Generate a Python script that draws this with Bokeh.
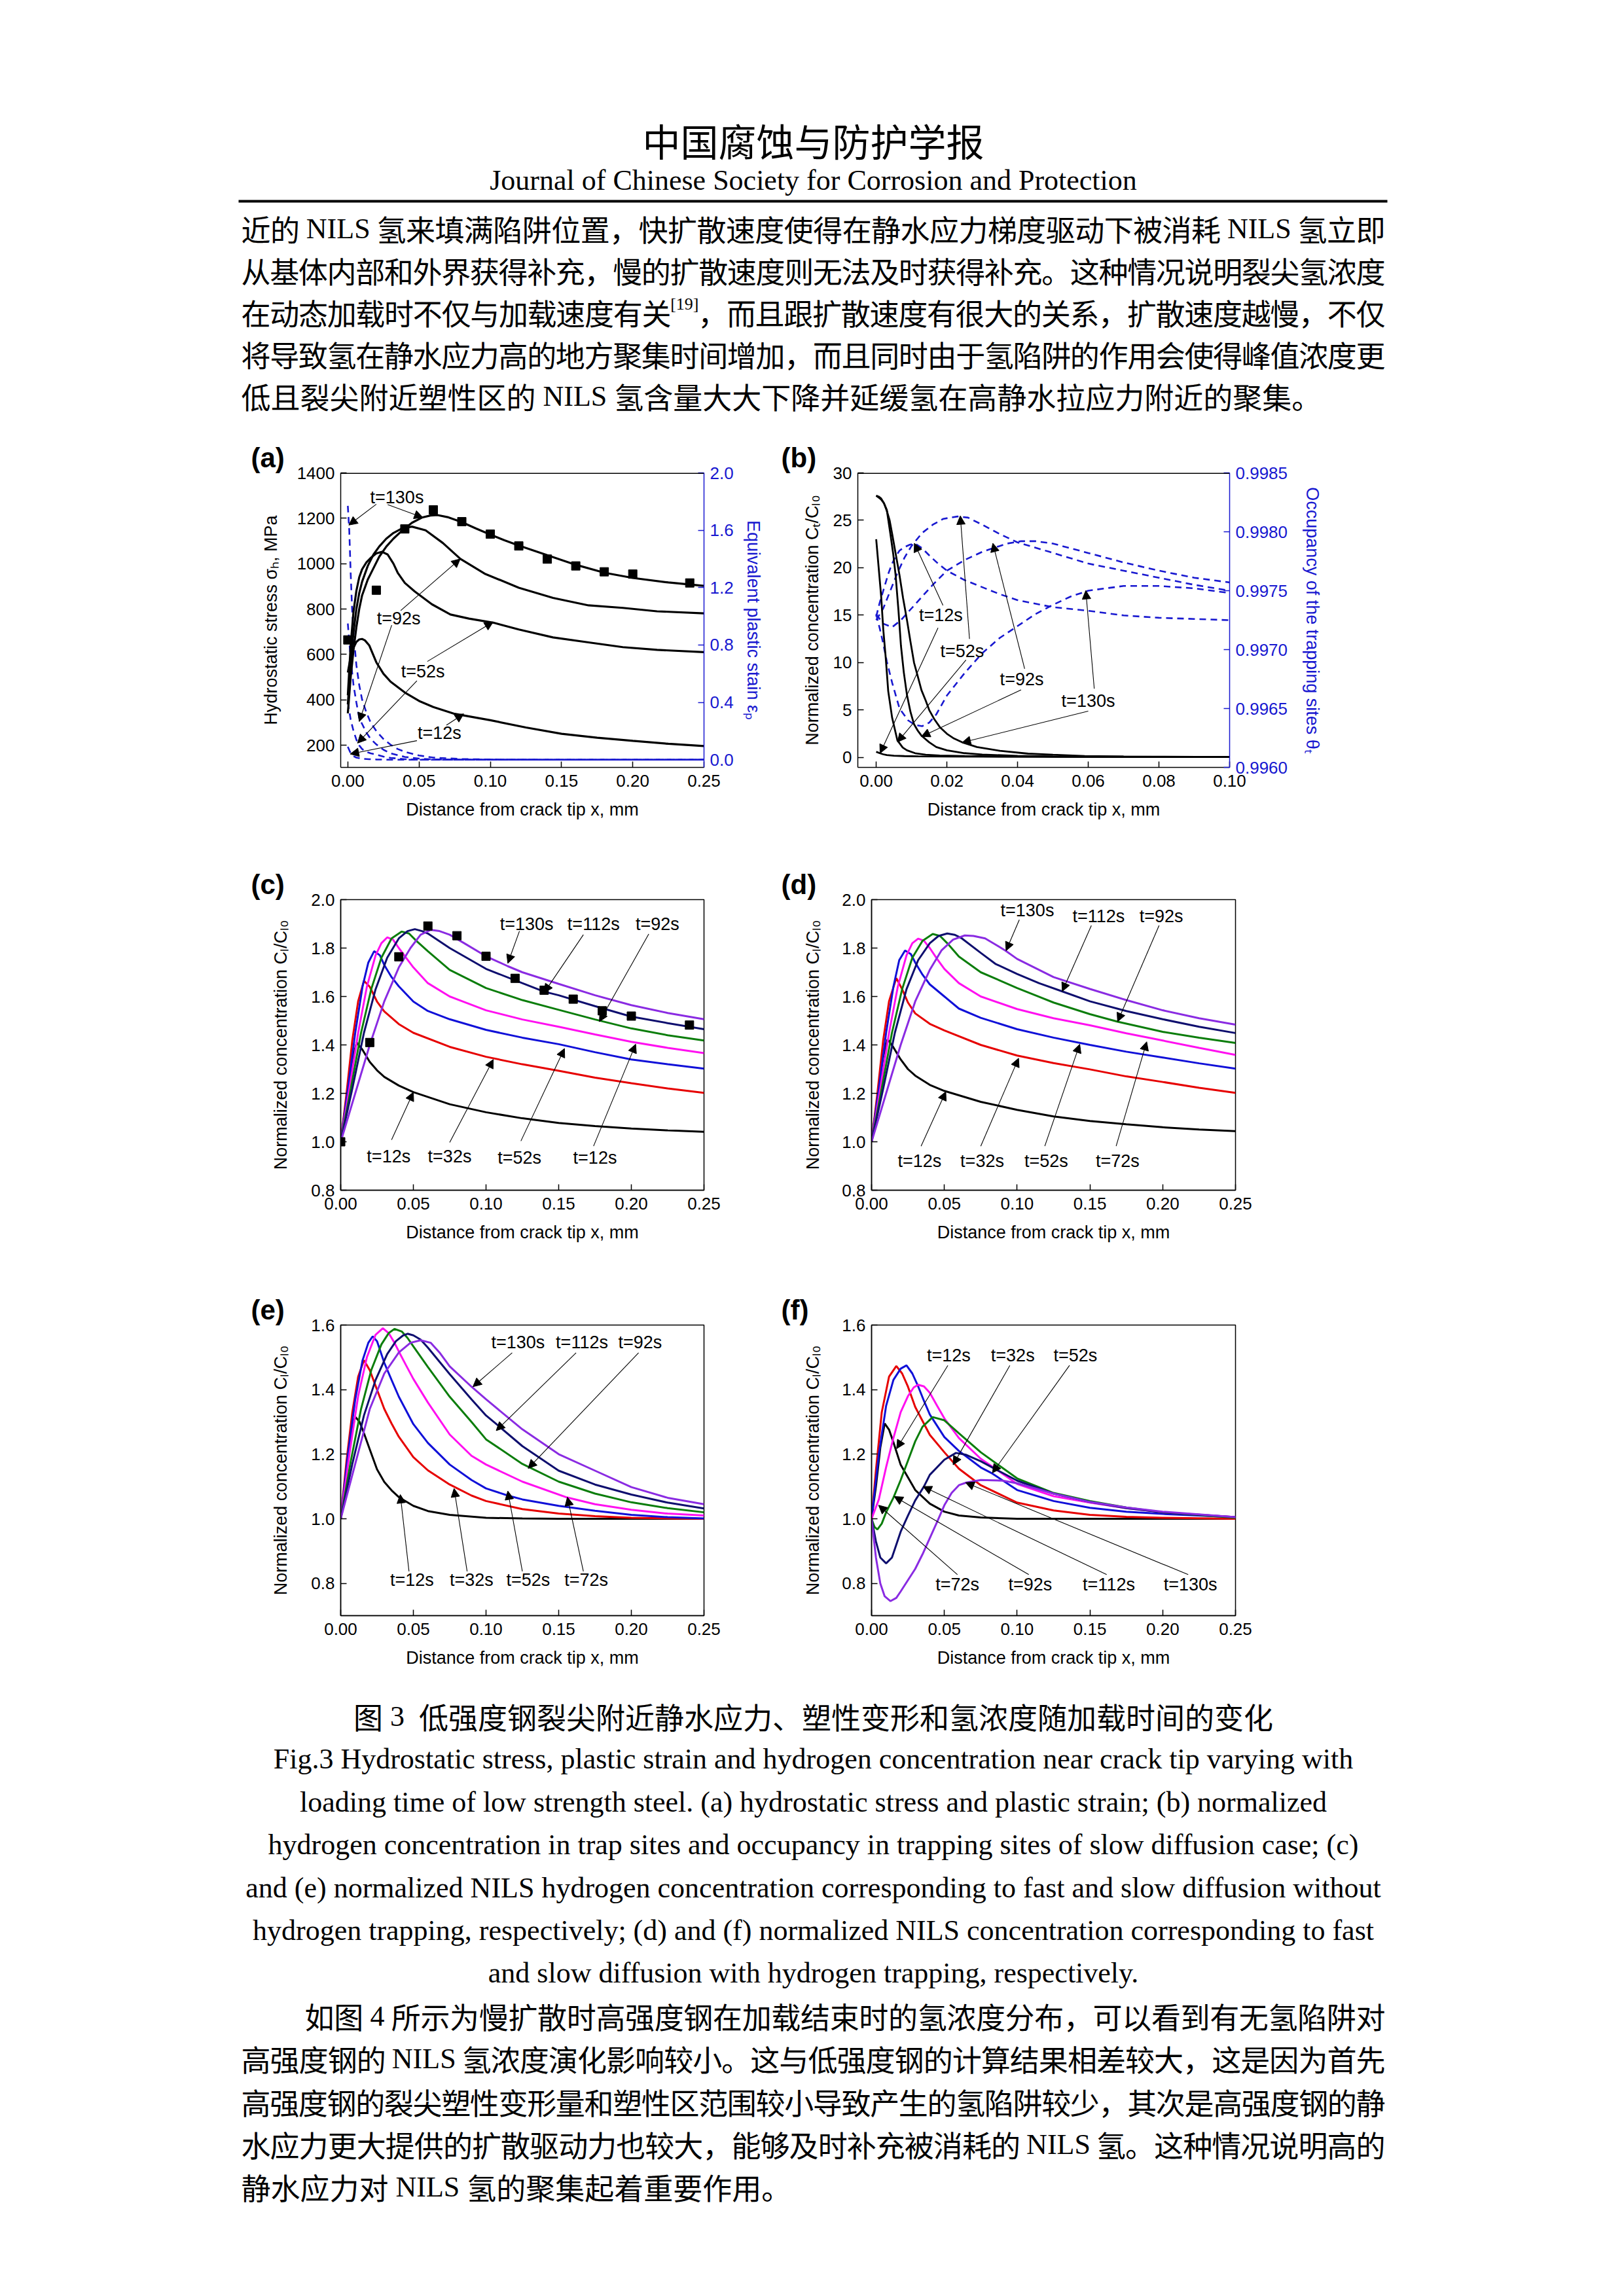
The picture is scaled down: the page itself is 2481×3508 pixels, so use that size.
import math
from bokeh.plotting import figure
from bokeh.models import (Range1d, LinearAxis, FixedTicker, Arrow, NormalHead,
                          ColumnDataSource, Span)
from bokeh.layouts import column, row
from bokeh.embed import file_html
from bokeh.resources import INLINE
from bokeh.core.properties import value

# ======================= DATA =======================
x_ticks_025 = [0.0, 0.05, 0.10, 0.15, 0.20, 0.25]
x_labels_025 = ["0.00", "0.05", "0.10", "0.15", "0.20", "0.25"]
x_ticks_010 = [0.0, 0.02, 0.04, 0.06, 0.08, 0.10]
x_labels_010 = ["0.00", "0.02", "0.04", "0.06", "0.08", "0.10"]

# ---- Panel (a)
a_left_ticks = [200, 400, 600, 800, 1000, 1200, 1400]
a_left_labels = ["200", "400", "600", "800", "1000", "1200", "1400"]
a_right_ticks = [0.0, 0.4, 0.8, 1.2, 1.6, 2.0]
a_right_labels = ["0.0", "0.4", "0.8", "1.2", "1.6", "2.0"]

a_s12_x = [0.0, 0.002, 0.004, 0.006, 0.008, 0.010, 0.012, 0.015, 0.020, 0.025, 0.030, 0.040,
           0.050, 0.060, 0.075, 0.100, 0.125, 0.150, 0.175, 0.200, 0.225, 0.250]
a_s12_y = [520, 590, 630, 655, 666, 668, 662, 640, 565, 515, 480, 432,
           395, 368, 338, 310, 278, 250, 233, 219, 206, 196]
a_s52_x = [0.0, 0.002, 0.004, 0.006, 0.008, 0.010, 0.013, 0.016, 0.020, 0.024, 0.028, 0.032,
           0.035, 0.040, 0.047, 0.059, 0.072, 0.085, 0.102, 0.120, 0.144, 0.169, 0.193, 0.217, 0.250]
a_s52_y = [420, 640, 790, 880, 940, 975, 1005, 1025, 1045, 1052, 1040, 1000,
           960, 915, 877, 821, 776, 758, 740, 710, 675, 653, 632, 620, 610]
a_s92_x = [0.0, 0.002, 0.004, 0.006, 0.008, 0.010, 0.014, 0.018, 0.022, 0.027, 0.032, 0.038,
           0.045, 0.0546, 0.0667, 0.079, 0.096, 0.120, 0.144, 0.169, 0.193, 0.217, 0.250]
a_s92_y = [380, 560, 700, 800, 870, 920, 990, 1040, 1075, 1110, 1135, 1155,
           1163, 1147, 1091, 1021, 956, 894, 849, 816, 805, 790, 781]
a_s130_x = [0.0, 0.002, 0.004, 0.006, 0.008, 0.010, 0.014, 0.018, 0.022, 0.027, 0.032, 0.038,
            0.045, 0.052, 0.058, 0.063, 0.070, 0.080, 0.090, 0.100, 0.110, 0.120, 0.140, 0.160,
            0.180, 0.200, 0.225, 0.250]
a_s130_y = [340, 500, 620, 720, 800, 860, 930, 980, 1030, 1075, 1110, 1145,
            1180, 1203, 1212, 1214, 1205, 1183, 1155, 1128, 1103, 1080, 1037, 995,
            960, 937, 917, 902]
a_mark_x = [0.0, 0.02, 0.04, 0.06, 0.08, 0.10, 0.12, 0.14, 0.16, 0.18, 0.20, 0.24]
a_mark_y = [664, 883, 1153, 1237, 1185, 1130, 1078, 1020, 990, 964, 954, 915]

a_e12_x = [0.0, 0.002, 0.004, 0.006, 0.010, 0.015, 0.020, 0.030, 0.250]
a_e12_y = [0.09, 0.045, 0.025, 0.015, 0.007, 0.004, 0.002, 0.0, 0.0]
a_e52_x = [0.0, 0.002, 0.004, 0.006, 0.008, 0.010, 0.013, 0.016, 0.020, 0.025, 0.030, 0.040, 0.050, 0.250]
a_e52_y = [0.40, 0.28, 0.20, 0.14, 0.10, 0.075, 0.055, 0.045, 0.036, 0.022, 0.013, 0.004, 0.0, 0.0]
a_e92_x = [0.0, 0.002, 0.004, 0.006, 0.008, 0.010, 0.013, 0.016, 0.020, 0.025, 0.030, 0.040, 0.050,
           0.060, 0.080, 0.250]
a_e92_y = [0.95, 0.70, 0.52, 0.40, 0.29, 0.25, 0.19, 0.145, 0.107, 0.07, 0.045, 0.02, 0.008,
           0.003, 0.0, 0.0]
a_e130_x = [0.0, 0.001, 0.002, 0.003, 0.004, 0.006, 0.008, 0.010, 0.013, 0.016, 0.020, 0.025,
            0.030, 0.035, 0.040, 0.050, 0.060, 0.080, 0.100, 0.150, 0.250]
a_e130_y = [1.77, 1.60, 1.30, 1.05, 0.88, 0.66, 0.52, 0.42, 0.33, 0.26, 0.20, 0.145,
            0.105, 0.075, 0.055, 0.03, 0.015, 0.005, 0.002, 0.0, 0.0]

a_lab_x = [0.0345, 0.0357, 0.0527, 0.0643]
a_lab_y = [1293, 757, 526, 254]
a_lab_t = ["t=130s", "t=92s", "t=52s", "t=12s"]
a_arr_x0 = [0.020, 0.028, 0.0308, 0.0371, 0.0485, 0.0558, 0.0485, 0.0692]
a_arr_y0 = [1262, 1260, 729, 793, 484, 569, 220, 288]
a_arr_x1 = [0.0007, 0.0527, 0.008, 0.0789, 0.0068, 0.102, 0.0017, 0.0813]
a_arr_y1 = [1170, 1203, 304, 1021, 209, 743, 161, 338]

# ---- Panel (b)
b_left_ticks = [0, 5, 10, 15, 20, 25, 30]
b_left_labels = ["0", "5", "10", "15", "20", "25", "30"]
b_right_ticks = [0.9960, 0.9965, 0.9970, 0.9975, 0.9980, 0.9985]
b_right_labels = ["0.9960", "0.9965", "0.9970", "0.9975", "0.9980", "0.9985"]

b_c12_x = [0.0, 0.001, 0.002, 0.003, 0.005, 0.008, 0.012, 0.02, 0.04, 0.06, 0.08, 0.10]
b_c12_y = [0.6, 0.45, 0.33, 0.25, 0.18, 0.14, 0.12, 0.1, 0.08, 0.07, 0.06, 0.05]
b_c52_x = [0.0, 0.0007, 0.0014, 0.002, 0.0027, 0.0034, 0.0045, 0.006, 0.0075, 0.0087, 0.011,
           0.014, 0.018, 0.025, 0.035, 0.05, 0.07, 0.10]
b_c52_y = [23.0, 20.0, 17.0, 13.5, 10.5, 7.0, 4.2, 1.8, 1.05, 0.75, 0.45,
           0.28, 0.2, 0.14, 0.1, 0.08, 0.06, 0.05]
b_c92_x = [0.0, 0.0007, 0.0014, 0.0022, 0.003, 0.004, 0.0048, 0.0055, 0.0063, 0.007, 0.0078,
           0.0087, 0.0097, 0.0107, 0.0118, 0.0128, 0.015, 0.017, 0.02, 0.025, 0.03, 0.04, 0.05,
           0.07, 0.10]
b_c92_y = [27.6, 27.4, 27.2, 26.8, 26.1, 23.6, 21.5, 19.2, 15.5, 11.8, 9.0,
           6.6, 4.8, 3.5, 2.8, 2.3, 1.6, 1.1, 0.75, 0.45, 0.3, 0.17, 0.1,
           0.07, 0.05]
b_c130_x = [0.0, 0.0007, 0.0014, 0.0022, 0.003, 0.0038, 0.0045, 0.0055, 0.0066, 0.0076, 0.0087,
            0.0097, 0.0107, 0.0118, 0.0128, 0.014, 0.015, 0.0165, 0.018, 0.02, 0.022, 0.0243,
            0.0285, 0.035, 0.043, 0.05, 0.059, 0.07, 0.08, 0.10]
b_c130_y = [27.6, 27.5, 27.3, 26.8, 26.0, 25.0, 23.6, 21.5, 19.2, 16.8, 14.5,
            12.2, 10.0, 8.5, 7.1, 6.0, 5.0, 4.0, 3.2, 2.5, 2.0, 1.6,
            1.1, 0.7, 0.4, 0.28, 0.15, 0.1, 0.08, 0.05]

b_t12_x = [0.0, 0.001, 0.0024, 0.0035, 0.0045, 0.0055, 0.0066, 0.008, 0.0095, 0.011, 0.013,
           0.015, 0.0175, 0.02, 0.025, 0.03, 0.035, 0.04, 0.05, 0.06, 0.07, 0.08, 0.09, 0.10]
b_t12_y = [0.99728, 0.99740, 0.99754, 0.99765, 0.99773, 0.99779, 0.99784, 0.99787, 0.99789,
           0.99790, 0.99786, 0.99780, 0.99773, 0.99767, 0.99759, 0.99753, 0.99747, 0.99742,
           0.99736, 0.99733, 0.99729, 0.99727, 0.99726, 0.99725]
b_t52_x = [0.0, 0.002, 0.004, 0.006, 0.008, 0.010, 0.013, 0.016, 0.019, 0.023, 0.026, 0.030,
           0.035, 0.040, 0.049, 0.060, 0.070, 0.080, 0.090, 0.100]
b_t52_y = [0.99725, 0.99735, 0.99750, 0.99765, 0.99778, 0.99788, 0.99799, 0.99806, 0.99811,
           0.99813, 0.99812, 0.99806, 0.99798, 0.99791, 0.99783, 0.99773, 0.99767, 0.99761,
           0.99755, 0.99750]
b_t92_x = [0.0, 0.002, 0.0045, 0.007, 0.010, 0.013, 0.016, 0.020, 0.025, 0.030, 0.033, 0.037,
           0.041, 0.045, 0.050, 0.060, 0.070, 0.080, 0.090, 0.100]
b_t92_y = [0.99730, 0.99722, 0.99719, 0.99725, 0.99735, 0.99745, 0.99755, 0.99767, 0.99776,
           0.99783, 0.99786, 0.99790, 0.99792, 0.99792, 0.99790, 0.99782, 0.99774, 0.99767,
           0.99761, 0.99757]
b_t130_x = [0.0, 0.001, 0.002, 0.003, 0.0045, 0.0066, 0.009, 0.011, 0.013, 0.015, 0.017, 0.020,
            0.025, 0.030, 0.035, 0.040, 0.045, 0.050, 0.055, 0.060, 0.065, 0.070, 0.080, 0.090,
            0.100]
b_t130_y = [0.99730, 0.99718, 0.99705, 0.99690, 0.99672, 0.99650, 0.99640, 0.99636, 0.99635,
            0.99638, 0.99645, 0.99661, 0.99680, 0.99697, 0.99710, 0.99720, 0.99730, 0.99738,
            0.99745, 0.99750, 0.99752, 0.99754, 0.99754, 0.99752, 0.99748]

b_lab_x = [0.0183, 0.0243, 0.0412, 0.060]
b_lab_y = [14.98, 11.18, 8.25, 5.94]
b_lab_t = ["t=12s", "t=52s", "t=92s", "t=130s"]
b_arr_x0 = [0.0189, 0.0175, 0.0264, 0.0254, 0.042, 0.041, 0.0617, 0.060]
b_arr_y0 = [16.03, 13.67, 12.49, 10.27, 9.35, 7.12, 7.25, 4.89]
b_arr_x1 = [0.0108, 0.0011, 0.0238, 0.006, 0.033, 0.0128, 0.0593, 0.0243]
b_arr_y1 = [22.58, 0.44, 25.47, 1.62, 22.58, 2.20, 17.6, 1.57]

# ---- Panel (c)
cd_y_ticks = [0.8, 1.0, 1.2, 1.4, 1.6, 1.8, 2.0]
cd_y_labels = ["0.8", "1.0", "1.2", "1.4", "1.6", "1.8", "2.0"]
c12_x = [0, 0.004, 0.008, 0.011, 0.015, 0.02, 0.025, 0.03, 0.04, 0.05, 0.075, 0.10, 0.125, 0.15, 0.175, 0.20, 0.225, 0.25]
c12_y = [1.0, 1.18, 1.34, 1.41, 1.38, 1.33, 1.295, 1.268, 1.232, 1.205, 1.155, 1.122, 1.097, 1.078, 1.065, 1.055, 1.047, 1.041]
c32_x = [0, 0.004, 0.008, 0.012, 0.016, 0.02, 0.025, 0.03, 0.04, 0.05, 0.075, 0.10, 0.125, 0.15, 0.175, 0.20, 0.225, 0.25]
c32_y = [1.0, 1.2, 1.42, 1.58, 1.665, 1.64, 1.579, 1.538, 1.486, 1.45, 1.392, 1.351, 1.32, 1.293, 1.265, 1.242, 1.22, 1.202]
c52_x = [0, 0.005, 0.01, 0.015, 0.019, 0.023, 0.027, 0.03, 0.035, 0.04, 0.05, 0.06, 0.075, 0.10, 0.125, 0.15, 0.175, 0.20, 0.225, 0.25]
c52_y = [1.0, 1.22, 1.45, 1.64, 1.74, 1.787, 1.77, 1.73, 1.68, 1.642, 1.579, 1.54, 1.506, 1.462, 1.43, 1.403, 1.37, 1.34, 1.32, 1.302]
c72_x = [0, 0.006, 0.012, 0.018, 0.024, 0.028, 0.032, 0.036, 0.04, 0.045, 0.05, 0.06, 0.075, 0.10, 0.125, 0.15, 0.175, 0.20, 0.225, 0.25]
c72_y = [1.0, 1.22, 1.45, 1.64, 1.77, 1.82, 1.844, 1.835, 1.80, 1.76, 1.72, 1.655, 1.60, 1.543, 1.505, 1.475, 1.443, 1.413, 1.388, 1.366]
c92_x = [0, 0.007, 0.014, 0.021, 0.028, 0.035, 0.042, 0.047, 0.052, 0.06, 0.075, 0.10, 0.125, 0.15, 0.175, 0.20, 0.225, 0.25]
c92_y = [1.0, 1.22, 1.45, 1.63, 1.76, 1.84, 1.868, 1.86, 1.83, 1.787, 1.71, 1.635, 1.585, 1.545, 1.505, 1.468, 1.44, 1.418]
c112_x = [0, 0.008, 0.016, 0.024, 0.032, 0.04, 0.046, 0.051, 0.056, 0.06, 0.075, 0.10, 0.125, 0.14, 0.15, 0.175, 0.20, 0.225, 0.25]
c112_y = [1.0, 1.22, 1.45, 1.63, 1.76, 1.84, 1.87, 1.878, 1.87, 1.86, 1.80, 1.714, 1.655, 1.62, 1.605, 1.56, 1.517, 1.49, 1.465]
c130_x = [0, 0.01, 0.02, 0.03, 0.04, 0.048, 0.055, 0.062, 0.068, 0.075, 0.085, 0.10, 0.115, 0.125, 0.15, 0.175, 0.20, 0.225, 0.25]
c130_y = [1.0, 1.2, 1.40, 1.58, 1.72, 1.80, 1.855, 1.875, 1.87, 1.855, 1.82, 1.766, 1.725, 1.70, 1.652, 1.605, 1.564, 1.532, 1.506]
c_mark_x = [0.0, 0.02, 0.04, 0.06, 0.08, 0.10, 0.12, 0.14, 0.16, 0.18, 0.20, 0.24]
c_mark_y = [1.0, 1.41, 1.764, 1.891, 1.851, 1.766, 1.675, 1.626, 1.589, 1.541, 1.519, 1.482]
c_lab_x = [0.128, 0.174, 0.218, 0.033, 0.075, 0.123, 0.175]
c_lab_y = [1.90, 1.90, 1.90, 0.94, 0.94, 0.935, 0.935]
c_lab_t = ["t=130s", "t=112s", "t=92s", "t=12s", "t=32s", "t=52s", "t=12s"]
c_arr_x0 = [0.123, 0.167, 0.212, 0.035, 0.075, 0.124, 0.174]
c_arr_y0 = [1.87, 1.855, 1.858, 1.008, 0.997, 1.003, 0.982]
c_arr_x1 = [0.115, 0.14, 0.178, 0.05, 0.105, 0.154, 0.203]
c_arr_y1 = [1.737, 1.616, 1.496, 1.205, 1.34, 1.385, 1.403]

# ---- Panel (d)
d12_x = [0, 0.004, 0.008, 0.011, 0.015, 0.02, 0.025, 0.03, 0.04, 0.05, 0.075, 0.10, 0.125, 0.15, 0.175, 0.20, 0.225, 0.25]
d12_y = [1.0, 1.18, 1.35, 1.423, 1.39, 1.34, 1.30, 1.273, 1.235, 1.21, 1.165, 1.132, 1.105, 1.086, 1.072, 1.06, 1.051, 1.044]
d32_x = [0, 0.004, 0.008, 0.012, 0.017, 0.021, 0.025, 0.03, 0.04, 0.05, 0.075, 0.10, 0.125, 0.15, 0.175, 0.20, 0.225, 0.25]
d32_y = [1.0, 1.2, 1.42, 1.58, 1.676, 1.63, 1.575, 1.53, 1.487, 1.46, 1.40, 1.356, 1.325, 1.299, 1.27, 1.247, 1.223, 1.202]
d52_x = [0, 0.005, 0.01, 0.015, 0.019, 0.023, 0.027, 0.03, 0.035, 0.04, 0.05, 0.06, 0.075, 0.10, 0.125, 0.15, 0.175, 0.20, 0.225, 0.25]
d52_y = [1.0, 1.22, 1.45, 1.64, 1.75, 1.79, 1.775, 1.74, 1.69, 1.65, 1.60, 1.55, 1.512, 1.465, 1.43, 1.40, 1.372, 1.348, 1.324, 1.302]
d72_x = [0, 0.006, 0.012, 0.018, 0.024, 0.028, 0.032, 0.036, 0.04, 0.045, 0.05, 0.06, 0.075, 0.10, 0.125, 0.15, 0.175, 0.20, 0.225, 0.25]
d72_y = [1.0, 1.22, 1.45, 1.64, 1.77, 1.82, 1.839, 1.83, 1.80, 1.755, 1.714, 1.655, 1.60, 1.548, 1.51, 1.481, 1.448, 1.418, 1.388, 1.359]
d92_x = [0, 0.007, 0.014, 0.021, 0.028, 0.035, 0.042, 0.047, 0.052, 0.06, 0.075, 0.10, 0.125, 0.15, 0.169, 0.20, 0.225, 0.25]
d92_y = [1.0, 1.22, 1.45, 1.63, 1.76, 1.83, 1.858, 1.85, 1.82, 1.765, 1.70, 1.635, 1.575, 1.527, 1.496, 1.454, 1.43, 1.408]
d112_x = [0, 0.008, 0.016, 0.024, 0.032, 0.04, 0.046, 0.052, 0.057, 0.062, 0.075, 0.085, 0.10, 0.115, 0.131, 0.15, 0.175, 0.20, 0.225, 0.25]
d112_y = [1.0, 1.22, 1.45, 1.63, 1.75, 1.82, 1.85, 1.86, 1.855, 1.84, 1.78, 1.735, 1.693, 1.655, 1.621, 1.58, 1.54, 1.506, 1.475, 1.449]
d130_x = [0, 0.01, 0.02, 0.03, 0.04, 0.048, 0.056, 0.064, 0.07, 0.078, 0.085, 0.092, 0.10, 0.125, 0.15, 0.175, 0.20, 0.225, 0.25]
d130_y = [1.0, 1.2, 1.40, 1.58, 1.71, 1.79, 1.835, 1.852, 1.85, 1.84, 1.815, 1.789, 1.755, 1.68, 1.631, 1.585, 1.543, 1.51, 1.484]
d_lab_x = [0.107, 0.156, 0.199, 0.033, 0.076, 0.12, 0.169]
d_lab_y = [1.955, 1.932, 1.932, 0.919, 0.919, 0.919, 0.919]
d_lab_t = ["t=130s", "t=112s", "t=92s", "t=12s", "t=32s", "t=52s", "t=72s"]
d_arr_x0 = [0.1015, 0.151, 0.1975, 0.034, 0.075, 0.119, 0.168]
d_arr_y0 = [1.917, 1.893, 1.893, 0.982, 0.982, 0.982, 0.982]
d_arr_x1 = [0.0924, 0.131, 0.169, 0.051, 0.101, 0.143, 0.189]
d_arr_y1 = [1.789, 1.621, 1.496, 1.207, 1.345, 1.403, 1.413]

# ---- Panel (e)
ef_y_ticks = [0.8, 1.0, 1.2, 1.4, 1.6]
ef_y_labels = ["0.8", "1.0", "1.2", "1.4", "1.6"]
e12_x = [0, 0.004, 0.007, 0.010, 0.013, 0.016, 0.02, 0.025, 0.03, 0.035, 0.04, 0.05, 0.06, 0.075, 0.10, 0.125, 0.15, 0.25]
e12_y = [1.0, 1.15, 1.26, 1.316, 1.30, 1.265, 1.215, 1.153, 1.114, 1.088, 1.067, 1.04, 1.024, 1.012, 1.003, 1.001, 1.0, 1.0]
e32_x = [0, 0.004, 0.008, 0.012, 0.016, 0.02, 0.025, 0.03, 0.035, 0.04, 0.05, 0.06, 0.075, 0.09, 0.10, 0.125, 0.15, 0.175, 0.20, 0.25]
e32_y = [1.0, 1.18, 1.33, 1.44, 1.491, 1.46, 1.40, 1.34, 1.295, 1.254, 1.191, 1.15, 1.106, 1.072, 1.055, 1.03, 1.016, 1.008, 1.003, 1.0]
e52_x = [0, 0.005, 0.01, 0.015, 0.019, 0.022, 0.025, 0.03, 0.035, 0.04, 0.05, 0.06, 0.075, 0.09, 0.10, 0.115, 0.125, 0.15, 0.175, 0.20, 0.225, 0.25]
e52_y = [1.0, 1.2, 1.37, 1.49, 1.545, 1.565, 1.55, 1.483, 1.43, 1.378, 1.293, 1.235, 1.168, 1.12, 1.094, 1.072, 1.06, 1.04, 1.025, 1.012, 1.005, 1.001]
e72_x = [0, 0.006, 0.012, 0.018, 0.024, 0.029, 0.033, 0.037, 0.04, 0.045, 0.05, 0.06, 0.075, 0.09, 0.10, 0.125, 0.155, 0.175, 0.20, 0.225, 0.25]
e72_y = [1.0, 1.2, 1.38, 1.50, 1.57, 1.59, 1.575, 1.545, 1.518, 1.475, 1.433, 1.36, 1.261, 1.195, 1.168, 1.115, 1.067, 1.045, 1.028, 1.016, 1.01]
e92_x = [0, 0.007, 0.014, 0.021, 0.028, 0.033, 0.037, 0.042, 0.046, 0.05, 0.06, 0.075, 0.09, 0.10, 0.125, 0.15, 0.175, 0.20, 0.225, 0.25]
e92_y = [1.0, 1.18, 1.34, 1.46, 1.54, 1.575, 1.588, 1.58, 1.56, 1.534, 1.47, 1.378, 1.30, 1.246, 1.17, 1.115, 1.078, 1.051, 1.033, 1.02]
e112_x = [0, 0.008, 0.016, 0.024, 0.032, 0.038, 0.043, 0.046, 0.05, 0.055, 0.06, 0.075, 0.09, 0.10, 0.108, 0.125, 0.15, 0.175, 0.20, 0.225, 0.25]
e112_y = [1.0, 1.17, 1.32, 1.43, 1.51, 1.55, 1.568, 1.573, 1.568, 1.555, 1.53, 1.448, 1.37, 1.32, 1.29, 1.225, 1.149, 1.106, 1.075, 1.05, 1.032]
e130_x = [0, 0.01, 0.02, 0.03, 0.04, 0.048, 0.055, 0.062, 0.068, 0.075, 0.09, 0.10, 0.125, 0.15, 0.175, 0.20, 0.225, 0.25]
e130_y = [1.0, 1.17, 1.34, 1.45, 1.515, 1.545, 1.553, 1.545, 1.515, 1.472, 1.409, 1.37, 1.277, 1.20, 1.149, 1.098, 1.065, 1.045]
e_lab_x = [0.122, 0.166, 0.206, 0.049, 0.09, 0.129, 0.169]
e_lab_y = [1.546, 1.546, 1.546, 0.81, 0.81, 0.81, 0.81]
e_lab_t = ["t=130s", "t=112s", "t=92s", "t=12s", "t=32s", "t=52s", "t=72s"]
e_arr_x0 = [0.118, 0.162, 0.205, 0.047, 0.087, 0.125, 0.167]
e_arr_y0 = [1.514, 1.514, 1.514, 0.837, 0.837, 0.837, 0.837]
e_arr_x1 = [0.091, 0.107, 0.129, 0.041, 0.078, 0.115, 0.156]
e_arr_y1 = [1.409, 1.273, 1.156, 1.075, 1.094, 1.086, 1.067]

# ---- Panel (f)
f12_x = [0, 0.003, 0.006, 0.009, 0.012, 0.015, 0.02, 0.025, 0.03, 0.04, 0.05, 0.06, 0.075, 0.10, 0.25]
f12_y = [1.0, 1.10, 1.22, 1.295, 1.276, 1.237, 1.167, 1.128, 1.089, 1.047, 1.022, 1.01, 1.004, 1.0, 1.0]
f32_x = [0, 0.003, 0.007, 0.012, 0.017, 0.021, 0.025, 0.03, 0.04, 0.05, 0.06, 0.075, 0.10, 0.125, 0.15, 0.175, 0.20, 0.25]
f32_y = [1.0, 1.15, 1.33, 1.44, 1.473, 1.45, 1.409, 1.346, 1.26, 1.206, 1.155, 1.104, 1.05, 1.026, 1.012, 1.006, 1.003, 1.0]
f52_x = [0, 0.005, 0.01, 0.015, 0.02, 0.024, 0.028, 0.032, 0.036, 0.04, 0.05, 0.06, 0.075, 0.083, 0.10, 0.125, 0.15, 0.175, 0.20, 0.25]
f52_y = [1.0, 1.2, 1.35, 1.43, 1.465, 1.475, 1.45, 1.41, 1.365, 1.323, 1.253, 1.21, 1.159, 1.14, 1.089, 1.055, 1.034, 1.022, 1.015, 1.005]
f72_x = [0, 0.005, 0.01, 0.015, 0.02, 0.025, 0.029, 0.032, 0.036, 0.04, 0.045, 0.05, 0.06, 0.075, 0.10, 0.125, 0.15, 0.175, 0.20, 0.25]
f72_y = [1.0, 1.06, 1.16, 1.25, 1.33, 1.38, 1.407, 1.415, 1.41, 1.39, 1.35, 1.311, 1.25, 1.186, 1.108, 1.07, 1.05, 1.033, 1.02, 1.005]
f92_x = [0, 0.002, 0.004, 0.007, 0.01, 0.015, 0.02, 0.025, 0.03, 0.035, 0.042, 0.05, 0.06, 0.075, 0.10, 0.125, 0.15, 0.175, 0.20, 0.25]
f92_y = [1.0, 0.975, 0.967, 0.985, 1.02, 1.065, 1.12, 1.18, 1.24, 1.285, 1.315, 1.305, 1.265, 1.206, 1.125, 1.08, 1.055, 1.035, 1.02, 1.003]
f112_x = [0, 0.003, 0.006, 0.01, 0.014, 0.02, 0.025, 0.03, 0.036, 0.04, 0.05, 0.058, 0.065, 0.075, 0.10, 0.125, 0.15, 0.175, 0.20, 0.25]
f112_y = [1.0, 0.93, 0.88, 0.862, 0.88, 0.96, 1.01, 1.057, 1.10, 1.136, 1.183, 1.204, 1.198, 1.178, 1.118, 1.078, 1.052, 1.033, 1.02, 1.005]
f130_x = [0, 0.003, 0.006, 0.009, 0.013, 0.017, 0.02, 0.025, 0.03, 0.035, 0.04, 0.045, 0.05, 0.055, 0.06, 0.065, 0.075, 0.09, 0.10, 0.125, 0.15, 0.175, 0.20, 0.25]
f130_y = [1.0, 0.88, 0.80, 0.76, 0.745, 0.755, 0.775, 0.81, 0.845, 0.89, 0.94, 0.99, 1.042, 1.08, 1.104, 1.112, 1.12, 1.118, 1.11, 1.078, 1.052, 1.035, 1.022, 1.005]
f_lab_x = [0.053, 0.097, 0.140, 0.059, 0.109, 0.163, 0.219]
f_lab_y = [1.506, 1.506, 1.506, 0.796, 0.796, 0.796, 0.796]
f_lab_t = ["t=12s", "t=32s", "t=52s", "t=72s", "t=92s", "t=112s", "t=130s"]
f_arr_x0 = [0.0524, 0.095, 0.136, 0.059, 0.108, 0.1615, 0.2175]
f_arr_y0 = [1.475, 1.475, 1.475, 0.827, 0.827, 0.827, 0.827]
f_arr_x1 = [0.0172, 0.056, 0.083, 0.0048, 0.0156, 0.0354, 0.0646]
f_arr_y1 = [1.217, 1.167, 1.142, 1.042, 1.069, 1.10, 1.112]

# ---- Page text
title_cn = "中国腐蚀与防护学报"
title_en = "Journal of Chinese Society for Corrosion and Protection"
body_top = [
    [("近的 NILS 氢来填满陷阱位置，快扩散速度使得在静水应力梯度驱动下被消耗 NILS 氢立即", "n")],
    [("从基体内部和外界获得补充，慢的扩散速度则无法及时获得补充。这种情况说明裂尖氢浓度", "n")],
    [("在动态加载时不仅与加载速度有关", "n"), ("[19]", "sup"), ("，而且跟扩散速度有很大的关系，扩散速度越慢，不仅", "n")],
    [("将导致氢在静水应力高的地方聚集时间增加，而且同时由于氢陷阱的作用会使得峰值浓度更", "n")],
    [("低且裂尖附近塑性区的 NILS 氢含量大大下降并延缓氢在高静水拉应力附近的聚集。", "n")],
]
caption_cn = [("图 3  低强度钢裂尖附近静水应力、塑性变形和氢浓度随加载时间的变化", "n")]
caption_en = [
    "Fig.3 Hydrostatic stress, plastic strain and hydrogen concentration near crack tip varying with",
    "loading time of low strength steel. (a) hydrostatic stress and plastic strain; (b) normalized",
    "hydrogen concentration in trap sites and occupancy in trapping sites of slow diffusion case; (c)",
    "and (e) normalized NILS hydrogen concentration corresponding to fast and slow diffusion without",
    "hydrogen trapping, respectively; (d) and (f) normalized NILS concentration corresponding to fast",
    "and slow diffusion with hydrogen trapping, respectively.",
]
body_bottom = [
    [("如图 4 所示为慢扩散时高强度钢在加载结束时的氢浓度分布，可以看到有无氢陷阱对", "n")],
    [("高强度钢的 NILS 氢浓度演化影响较小。这与低强度钢的计算结果相差较大，这是因为首先", "n")],
    [("高强度钢的裂尖塑性变形量和塑性区范围较小导致产生的氢陷阱较少，其次是高强度钢的静", "n")],
    [("水应力更大提供的扩散驱动力也较大，能够及时补充被消耗的 NILS 氢。这种情况说明高的", "n")],
    [("静水应力对 NILS 氢的聚集起着重要作用。", "n")],
]

# ======================= STYLE =======================
SANS = "Liberation Sans"
SERIF = "Liberation Serif"
CJK = "Noto Sans CJK SC"
BLUE_AX = "#1818d0"
COL = {"12": "#000000", "32": "#e60000", "52": "#1010d8", "72": "#ff10f0",
       "92": "#0b7d0b", "112": "#0e0e6e", "130": "#8a2be2"}
PAGE_W = 2465
X0 = 8


def style_axis(ax, ticks, labels, color="black", label_standoff=12, tick_standoff=9):
    ax.ticker = FixedTicker(ticks=ticks)
    ax.major_label_overrides = {t: l for t, l in zip(ticks, labels)}
    ax.major_tick_in = 9
    ax.major_tick_out = 0
    ax.minor_tick_line_color = None
    ax.major_tick_line_color = color
    ax.major_tick_line_width = 1.5
    ax.axis_line_color = color
    ax.axis_line_width = 1.5
    ax.major_label_text_font = SANS
    ax.major_label_text_font_size = "26px"
    ax.major_label_text_color = color
    ax.major_label_standoff = tick_standoff
    ax.axis_label_text_font = SANS
    ax.axis_label_text_font_size = "27px"
    ax.axis_label_text_font_style = "normal"
    ax.axis_label_text_color = color
    ax.axis_label_standoff = label_standoff


def make_panel(geom, xr, yr, xt, xtl, yt, ytl, xlabel, ylabel, ystand, letter, letter_dx,
               outline=True):
    bl, fw, br, bt, fh, bb = geom
    p = figure(frame_width=fw, frame_height=fh, min_border_left=bl, min_border_right=br,
               min_border_top=bt, min_border_bottom=bb, x_range=Range1d(*xr),
               y_range=Range1d(*yr), output_backend="svg", toolbar_location=None, tools="",
               x_axis_label=xlabel, y_axis_label=ylabel, title=letter)
    p.grid.visible = False
    p.background_fill_color = "white"
    p.border_fill_color = "white"
    if outline:
        p.outline_line_color = "black"
        p.outline_line_width = 1.5
    else:
        p.outline_line_color = None
    # panel letter as the figure title, pulled left over the axis area
    p.title.align = "left"
    p.title.offset = letter_dx
    p.title.standoff = 0
    p.title.text_font = SANS
    p.title.text_font_size = "42px"
    p.title.text_font_style = "bold"
    p.title.text_color = "black"
    style_axis(p.xaxis[0], xt, xtl, "black", 17, 11)
    style_axis(p.yaxis[0], yt, ytl, "black", ystand)
    return p


def add_labels(p, xs, ys, ts):
    p.text(x=xs, y=ys, text=ts, text_font=value(SANS), text_font_size=value("27px"),
           text_align="center", text_baseline="middle", text_color="black")


def add_arrows(p, x0, y0, x1, y1):
    src = ColumnDataSource(dict(x0=x0, y0=y0, x1=x1, y1=y1))
    p.add_layout(Arrow(end=NormalHead(size=13, fill_color="black", line_color="black",
                                      line_width=1),
                       x_start="x0", y_start="y0", x_end="x1", y_end="y1", source=src,
                       line_color="black", line_width=1.1))


def add_right_axis(p, name, rng, ticks, labels, label, stand, ytop):
    p.extra_y_ranges = {name: Range1d(*rng)}
    ax = LinearAxis(y_range_name=name, axis_label=label)
    style_axis(ax, ticks, labels, BLUE_AX, stand)
    p.add_layout(ax, "right")
    p.add_layout(Span(location=ytop, dimension="width", line_color="black", line_width=3))


G_A = (520, 555, 107, 50, 450, 150)
G_B = (128, 568, 587, 50, 450, 150)
G_C = (520, 555, 107, 52, 444, 154)
G_D = (149, 556, 578, 52, 444, 154)
G_E = (520, 555, 107, 52, 444, 114)
G_F = (149, 556, 578, 52, 444, 114)
LET_L = 383 - 520
LET_B = 1201 - 1318
LET_D = 1201 - 1339
XLAB = "Distance from crack tip x, mm"
YLAB_CL = "Normalized concentration C\u2097/C\u2097\u2080"

# ---- (a)
a_xr = (-0.005, 0.25)
a_yr = (102, 1400)
pa = make_panel(G_A, a_xr, a_yr, x_ticks_025, x_labels_025, a_left_ticks, a_left_labels,
                XLAB, "Hydrostatic stress \u03c3\u2095, MPa", 22, "(a)", LET_L, outline=False)
add_right_axis(pa, "r", (-0.0533, 2.0), a_right_ticks, a_right_labels,
               "Equivalent plastic stain \u03b5\u209a", 12, a_yr[1])
for ex, ey in [(a_e12_x, a_e12_y), (a_e52_x, a_e52_y), (a_e92_x, a_e92_y), (a_e130_x, a_e130_y)]:
    pa.line(ex, ey, y_range_name="r", line_color=BLUE_AX, line_width=2.6, line_dash="10 7")
for sx, sy in [(a_s12_x, a_s12_y), (a_s52_x, a_s52_y), (a_s92_x, a_s92_y), (a_s130_x, a_s130_y)]:
    pa.line(sx, sy, line_color="black", line_width=3.2)
pa.scatter(a_mark_x, a_mark_y, marker="square", size=13, color="black")
add_labels(pa, a_lab_x, a_lab_y, a_lab_t)
add_arrows(pa, a_arr_x0, a_arr_y0, a_arr_x1, a_arr_y1)

# ---- (b)
b_xr = (-0.0052, 0.10)
b_yr = (-1.05, 30)
pb = make_panel(G_B, b_xr, b_yr, x_ticks_010, x_labels_010, b_left_ticks, b_left_labels,
                XLAB, "Normalized concentration C\u209c/C\u2097\u2080", 14, "(b)", LET_B,
                outline=False)
add_right_axis(pb, "r", (0.99600, 0.99850), b_right_ticks, b_right_labels,
               "Occupancy of the trapping sites \u03b8\u209c", 20, b_yr[1])
for tx, ty in [(b_t12_x, b_t12_y), (b_t52_x, b_t52_y), (b_t92_x, b_t92_y), (b_t130_x, b_t130_y)]:
    pb.line(tx, ty, y_range_name="r", line_color=BLUE_AX, line_width=2.6, line_dash="10 7")
for cx, cy in [(b_c12_x, b_c12_y), (b_c52_x, b_c52_y), (b_c92_x, b_c92_y), (b_c130_x, b_c130_y)]:
    pb.line(cx, cy, line_color="black", line_width=2.8)
add_labels(pb, b_lab_x, b_lab_y, b_lab_t)
add_arrows(pb, b_arr_x0, b_arr_y0, b_arr_x1, b_arr_y1)


def draw_family(p, curves):
    for key, xs, ys in curves:
        p.line(xs, ys, line_color=COL[key], line_width=3)


cd_yr = (0.8, 2.0)
cd_xr = (0.0, 0.25)
pc = make_panel(G_C, cd_xr, cd_yr, x_ticks_025, x_labels_025, cd_y_ticks, cd_y_labels,
                XLAB, YLAB_CL, 28, "(c)", LET_L)
draw_family(pc, [("12", c12_x, c12_y), ("32", c32_x, c32_y), ("52", c52_x, c52_y),
                 ("72", c72_x, c72_y), ("92", c92_x, c92_y), ("112", c112_x, c112_y),
                 ("130", c130_x, c130_y)])
pc.scatter(c_mark_x, c_mark_y, marker="square", size=13, color="black")
add_labels(pc, c_lab_x, c_lab_y, c_lab_t)
add_arrows(pc, c_arr_x0, c_arr_y0, c_arr_x1, c_arr_y1)

pd_ = make_panel(G_D, cd_xr, cd_yr, x_ticks_025, x_labels_025, cd_y_ticks, cd_y_labels,
                 XLAB, YLAB_CL, 26, "(d)", LET_D)
draw_family(pd_, [("12", d12_x, d12_y), ("32", d32_x, d32_y), ("52", d52_x, d52_y),
                  ("72", d72_x, d72_y), ("92", d92_x, d92_y), ("112", d112_x, d112_y),
                  ("130", d130_x, d130_y)])
add_labels(pd_, d_lab_x, d_lab_y, d_lab_t)
add_arrows(pd_, d_arr_x0, d_arr_y0, d_arr_x1, d_arr_y1)

ef_yr = (0.7, 1.6)
pe = make_panel(G_E, cd_xr, ef_yr, x_ticks_025, x_labels_025, ef_y_ticks, ef_y_labels,
                XLAB, YLAB_CL, 28, "(e)", LET_L)
draw_family(pe, [("12", e12_x, e12_y), ("32", e32_x, e32_y), ("52", e52_x, e52_y),
                 ("72", e72_x, e72_y), ("92", e92_x, e92_y), ("112", e112_x, e112_y),
                 ("130", e130_x, e130_y)])
add_labels(pe, e_lab_x, e_lab_y, e_lab_t)
add_arrows(pe, e_arr_x0, e_arr_y0, e_arr_x1, e_arr_y1)

pf = make_panel(G_F, cd_xr, ef_yr, x_ticks_025, x_labels_025, ef_y_ticks, ef_y_labels,
                XLAB, YLAB_CL, 26, "(f)", LET_D)
draw_family(pf, [("12", f12_x, f12_y), ("32", f32_x, f32_y), ("52", f52_x, f52_y),
                 ("72", f72_x, f72_y), ("92", f92_x, f92_y), ("112", f112_x, f112_y),
                 ("130", f130_x, f130_y)])
add_labels(pf, f_lab_x, f_lab_y, f_lab_t)
add_arrows(pf, f_arr_x0, f_arr_y0, f_arr_x1, f_arr_y1)

# ======================= TEXT BLOCKS =======================
FS_CJK = 45
FS_LAT = 44
FS_SUP = 26
TW = {' ': 0.25, 'N': 0.722, 'I': 0.333, 'L': 0.611, 'S': 0.556, '[': 0.333, ']': 0.333}


def lat_width(s, fs):
    return sum(TW.get(c, 0.5) for c in s) * fs


def tokenize(segs):
    toks = []
    for txt, kind in segs:
        if kind == "sup":
            toks.append((txt, "sup", lat_width(txt, FS_SUP)))
            continue
        buf = ""
        for ch in txt:
            if ch == " ":
                if buf:
                    toks.append((buf, "lat", lat_width(buf, FS_LAT)))
                    buf = ""
                toks.append((" ", "sp", 0.25 * FS_LAT))
            elif ord(ch) < 0x2000:
                buf += ch
            else:
                if buf:
                    toks.append((buf, "lat", lat_width(buf, FS_LAT)))
                    buf = ""
                toks.append((ch, "cjk", FS_CJK))
        if buf:
            toks.append((buf, "lat", lat_width(buf, FS_LAT)))
    return toks


def new_bucket():
    return {"cjk": dict(x=[], y=[], text=[]), "lat": dict(x=[], y=[], text=[]),
            "sup": dict(x=[], y=[], text=[])}


def place(bucket, segs, y, left, right=None, center=None):
    toks = tokenize(segs)
    total = sum(w for _, _, w in toks)
    gap = 0.0
    x = left
    if right is not None and len(toks) > 1:
        gap = (right - left - total) / (len(toks) - 1)
    elif center is not None:
        x = center - total / 2
    for t, k, w in toks:
        if k in ("cjk", "lat"):
            b = bucket[k]
            b["x"].append(x); b["y"].append(y); b["text"].append(t)
        elif k == "sup":
            b = bucket["sup"]
            b["x"].append(x); b["y"].append(y - 13); b["text"].append(t)
        x += w + gap


def draw_bucket(p, bucket):
    p.text(x="x", y="y", text="text", source=ColumnDataSource(bucket["cjk"]),
           text_font=value(CJK), text_font_size=value("%dpx" % FS_CJK),
           text_align="left", text_baseline="middle", text_color="black")
    p.text(x="x", y="y", text="text", source=ColumnDataSource(bucket["lat"]),
           text_font=value(SERIF), text_font_size=value("%dpx" % FS_LAT),
           text_align="left", text_baseline="middle", text_color="black")
    p.text(x="x", y="y", text="text", source=ColumnDataSource(bucket["sup"]),
           text_font=value(SERIF), text_font_size=value("%dpx" % FS_SUP),
           text_align="left", text_baseline="middle", text_color="black")


def text_fig(y_top, y_bot):
    p = figure(width=PAGE_W, height=y_bot - y_top, x_range=Range1d(X0, X0 + PAGE_W),
               y_range=Range1d(y_bot, y_top), output_backend="svg", toolbar_location=None,
               tools="", min_border=0, x_axis_type=None, y_axis_type=None)
    p.outline_line_color = None
    p.grid.visible = False
    p.background_fill_color = "white"
    p.border_fill_color = "white"
    return p


TXT_L, TXT_R, TXT_C = 376, 2124, 1250
LINE_H = 64

ph = text_fig(8, 680)
ph.text(x=[TXT_C], y=[221], text=[title_cn], text_font=value(CJK), text_font_size=value("58px"),
        text_align="center", text_baseline="middle", text_color="black")
ph.text(x=[TXT_C], y=[283], text=[title_en], text_font=value(SERIF), text_font_size=value("44px"),
        text_align="center", text_baseline="middle", text_color="black")
ph.segment(x0=[372], y0=[315], x1=[2127], y1=[315], line_color="black", line_width=4)
hb = new_bucket()
for i, segs in enumerate(body_top):
    yy = 357 + i * LINE_H
    if i < len(body_top) - 1:
        place(hb, segs, yy, TXT_L, right=TXT_R)
    else:
        place(hb, segs, yy, TXT_L)
draw_bucket(ph, hb)

pcap = text_fig(2590, 3500)
CAP_H = 65.4
CAP_Y0 = 2630
cb = new_bucket()
place(cb, caption_cn, CAP_Y0, TXT_L, center=TXT_C)
for i, segs in enumerate(body_bottom):
    yy = CAP_Y0 + (7 + i) * CAP_H
    if i == 0:
        place(cb, segs, yy, 473, right=TXT_R)
    elif i < len(body_bottom) - 1:
        place(cb, segs, yy, TXT_L, right=TXT_R)
    else:
        place(cb, segs, yy, TXT_L)
draw_bucket(pcap, cb)
cap_y = [CAP_Y0 + (1 + i) * CAP_H for i in range(len(caption_en))]
pcap.text(x=[TXT_C] * len(caption_en), y=cap_y, text=caption_en, text_font=value(SERIF),
          text_font_size=value("44px"), text_align="center", text_baseline="middle",
          text_color="black")

layout = column(ph, row(pa, pb), row(pc, pd_), row(pe, pf), pcap)
open("out.html", "w").write(file_html(layout, INLINE))
